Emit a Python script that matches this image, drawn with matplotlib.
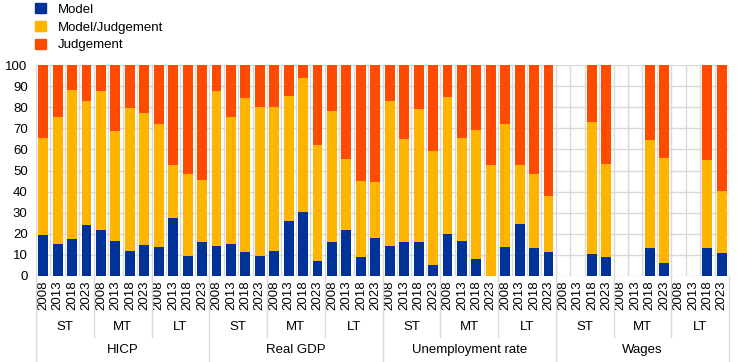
import matplotlib
matplotlib.use("Agg")
import matplotlib.pyplot as plt
from matplotlib.patches import Patch
from matplotlib.lines import Line2D

plt.rcParams['font.family'] = ['Liberation Sans', 'DejaVu Sans']

groups = ["HICP", "Real GDP", "Unemployment rate", "Wages"]
horizons = ["ST", "MT", "LT"]
years = ["2008", "2013", "2018", "2023"]

# Order: group -> horizon -> year
model = [
    19.6, 15.2, 17.5, 24.2,   21.8, 16.6, 11.8, 14.7,   13.7, 27.5, 9.5, 16.1,
    14.2, 15.2, 11.4, 9.5,    11.8, 26.1, 30.3, 7.1,    16.1, 21.8, 9.0, 18.0,
    14.2, 16.1, 16.1, 5.2,    19.9, 16.6, 8.1, 0.0,     13.7, 24.6, 13.3, 11.4,
    0.0, 0.0, 10.4, 9.0,      0.0, 0.0, 13.3, 6.2,      0.0, 0.0, 13.3, 10.9,
]
# cumulative top of Model/Judgement (Model + Model/Judgement)
model_judgement_top = [
    65.4, 75.4, 88.2, 82.9,   87.7, 68.7, 79.6, 77.3,   72.0, 52.6, 48.3, 45.5,
    87.7, 75.4, 84.4, 80.1,   80.1, 85.3, 93.8, 62.1,   78.2, 55.5, 45.0, 44.5,
    82.9, 64.9, 79.1, 59.2,   84.8, 65.4, 69.2, 52.6,   72.0, 52.6, 48.3, 37.9,
    0.0, 0.0, 73.0, 53.1,     0.0, 0.0, 64.5, 55.9,     0.0, 0.0, 55.0, 40.3,
]
available = [0 if (m == 0 and t == 0) else 1 for m, t in zip(model, model_judgement_top)]
model_judgement = [t - m for m, t in zip(model, model_judgement_top)]
judgement = [(100 - t) if a else 0 for t, a in zip(model_judgement_top, available)]

C_MODEL = "#003299"
C_MJ = "#FFB400"
C_J = "#FF4B00"
GRID = "#d9d9d9"

W, H = 745, 362
fig = plt.figure(figsize=(W / 100, H / 100), dpi=100)
L, R, T, B = 36, 729, 65, 276
ax = fig.add_axes([L / W, (H - B) / H, (R - L) / W, (B - T) / H])

n = len(model)
x = list(range(n))
bw = 0.68
ax.bar(x, model, bw, color=C_MODEL, zorder=3)
ax.bar(x, model_judgement, bw, bottom=model, color=C_MJ, zorder=3)
ax.bar(x, judgement, bw, bottom=model_judgement_top, color=C_J, zorder=3)

ax.set_xlim(-0.5, n - 0.5)
ax.set_ylim(0, 100)
ax.set_yticks(range(0, 101, 10))
for yv in range(0, 101, 10):
    ax.axhline(yv, color=GRID, lw=1, zorder=1)
for i in range(n + 1):
    ax.axvline(i - 0.5, color=GRID, lw=1, zorder=1)

for s in ax.spines.values():
    s.set_visible(False)
ax.tick_params(axis='y', length=0, labelsize=9.5, pad=6, colors='black')
ax.tick_params(axis='x', length=0, labelsize=9.5, pad=3)
ax.set_xticks(x)
ax.set_xticklabels(years * (len(groups) * len(horizons)), rotation=90, va='top')

ht = (B - T)
def ay(px):
    return (B - px) / ht

trans = ax.get_xaxis_transform()
nh = len(years)
ng = len(horizons) * nh
for gi, g in enumerate(groups):
    gstart = gi * ng
    ax.text(gstart + ng / 2 - 0.5, ay(350), g, transform=trans, ha='center', va='center', fontsize=9.5)
    for hi, h in enumerate(horizons):
        hstart = gstart + hi * nh
        ax.text(hstart + nh / 2 - 0.5, ay(327), h, transform=trans, ha='center', va='center', fontsize=9.5)
        if hi > 0:
            ax.add_line(Line2D([hstart - 0.5, hstart - 0.5], [0, ay(337)], transform=trans,
                               color=GRID, lw=1, clip_on=False))
for gi in range(len(groups) + 1):
    xs = gi * ng - 0.5
    ax.add_line(Line2D([xs, xs], [0, ay(362)], transform=trans, color=GRID, lw=1, clip_on=False))

handles = [Patch(color=C_MODEL), Patch(color=C_MJ), Patch(color=C_J)]
fig.legend(handles, ["Model", "Model/Judgement", "Judgement"], loc='upper left',
           bbox_to_anchor=(35 / W, 1 - 3 / H), frameon=False, fontsize=9.5,
           handlelength=0.8, handleheight=0.8, handletextpad=0.9, labelspacing=0.4,
           borderpad=0, borderaxespad=0)

fig.savefig("out.png", dpi=100)
